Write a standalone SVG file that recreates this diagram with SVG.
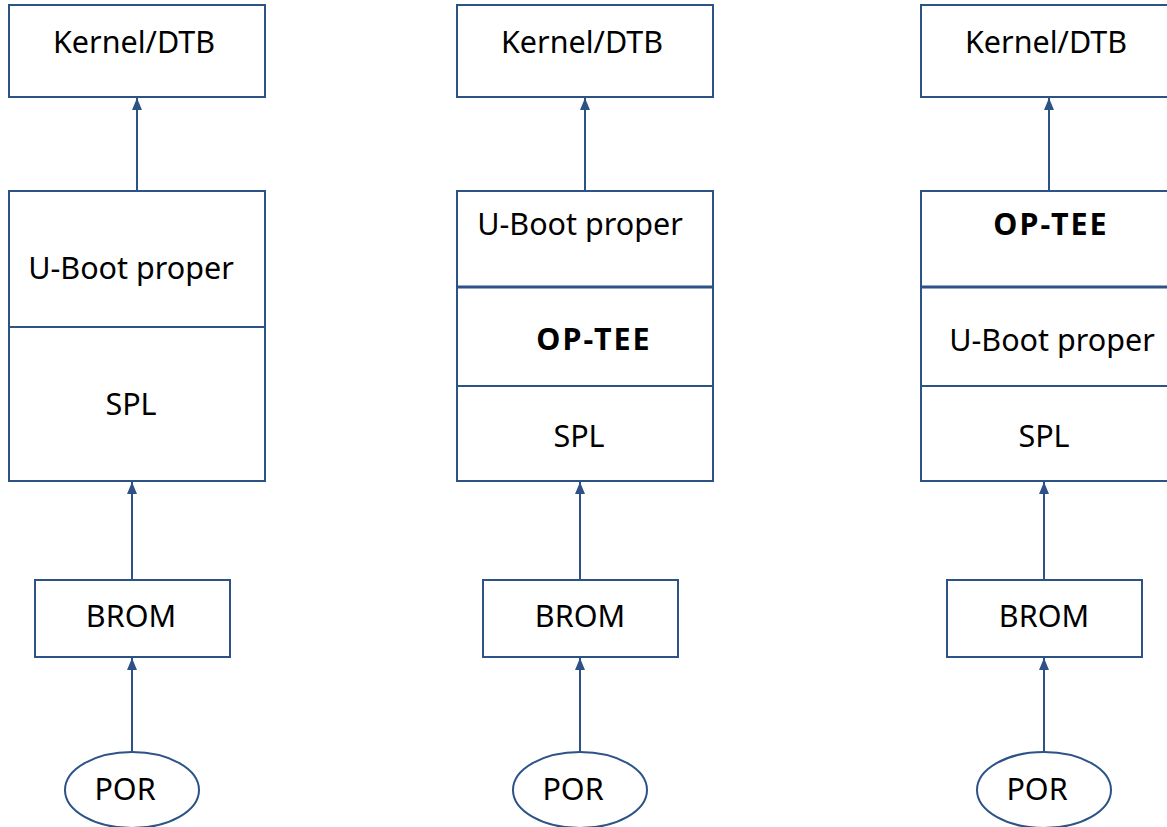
<svg xmlns="http://www.w3.org/2000/svg" width="1167" height="827" viewBox="0 0 1167 827">
<defs>
<style>
.box{fill:#ffffff;stroke:#2d5286;stroke-width:2}
.div{stroke:#2d5286;stroke-width:2}
.divb{stroke:#2d5286;stroke-width:3}
.edge{stroke:#2d5286;stroke-width:2;fill:none;marker-end:url(#arr)}
.t{font-family:"Noto Sans","Open Sans",sans-serif;font-size:30.5px;fill:#000000;text-anchor:middle}
.b{font-weight:bold;letter-spacing:2px}
</style>
<marker id="arr" viewBox="0 0 12 10" refX="12" refY="5" markerWidth="12" markerHeight="10" markerUnits="userSpaceOnUse" orient="auto">
<path d="M0,0 L12,5 L0,10 Z" fill="#2d5286"/>
</marker>
</defs>
<rect width="1167" height="827" fill="#ffffff"/>

<g id="connectors">
<line class="edge" x1="137" y1="190" x2="137" y2="98"/>
<line class="edge" x1="132" y1="579" x2="132" y2="482"/>
<line class="edge" x1="132" y1="752" x2="132" y2="658"/>
<line class="edge" x1="585" y1="190" x2="585" y2="98"/>
<line class="edge" x1="580" y1="579" x2="580" y2="482"/>
<line class="edge" x1="580" y1="752" x2="580" y2="658"/>
<line class="edge" x1="1049" y1="190" x2="1049" y2="98"/>
<line class="edge" x1="1044" y1="579" x2="1044" y2="482"/>
<line class="edge" x1="1044" y1="752" x2="1044" y2="658"/>
</g>

<!-- Column 1 -->
<g id="kernel1">
<rect class="box" x="9" y="5" width="256" height="92"/>
<text class="t" x="134" y="53">Kernel/DTB</text>
</g>
<g id="stack1">
<rect class="box" x="9" y="191" width="256" height="290"/>
<line class="div" x1="9" y1="327" x2="265" y2="327"/>
<text class="t" x="131" y="279">U-Boot proper</text>
<text class="t" x="131" y="415">SPL</text>
</g>
<g id="brom1">
<rect class="box" x="35" y="580" width="195" height="77"/>
<text class="t" x="131" y="627">BROM</text>
</g>
<g id="por1">
<ellipse class="box" cx="132" cy="790" rx="67" ry="38"/>
<text class="t" x="125" y="800">POR</text>
</g>

<!-- Column 2 -->
<g id="kernel2">
<rect class="box" x="457" y="5" width="256" height="92"/>
<text class="t" x="582" y="53">Kernel/DTB</text>
</g>
<g id="stack2">
<rect class="box" x="457" y="191" width="256" height="290"/>
<line class="divb" x1="457" y1="287" x2="713" y2="287"/>
<line class="div" x1="457" y1="386" x2="713" y2="386"/>
<text class="t" x="580" y="235">U-Boot proper</text>
<text class="t b" x="594" y="350">OP-TEE</text>
<text class="t" x="579" y="447">SPL</text>
</g>
<g id="brom2">
<rect class="box" x="483" y="580" width="195" height="77"/>
<text class="t" x="580" y="627">BROM</text>
</g>
<g id="por2">
<ellipse class="box" cx="580" cy="790" rx="67" ry="38"/>
<text class="t" x="573" y="800">POR</text>
</g>

<!-- Column 3 -->
<g id="kernel3">
<rect class="box" x="921" y="5" width="256" height="92"/>
<text class="t" x="1046" y="53">Kernel/DTB</text>
</g>
<g id="stack3">
<rect class="box" x="921" y="191" width="256" height="290"/>
<line class="divb" x1="921" y1="287" x2="1177" y2="287"/>
<line class="div" x1="921" y1="386" x2="1177" y2="386"/>
<text class="t b" x="1051" y="235">OP-TEE</text>
<text class="t" x="1052" y="351">U-Boot proper</text>
<text class="t" x="1044" y="447">SPL</text>
</g>
<g id="brom3">
<rect class="box" x="947" y="580" width="195" height="77"/>
<text class="t" x="1044" y="627">BROM</text>
</g>
<g id="por3">
<ellipse class="box" cx="1044" cy="790" rx="67" ry="38"/>
<text class="t" x="1037" y="800">POR</text>
</g>
</svg>
